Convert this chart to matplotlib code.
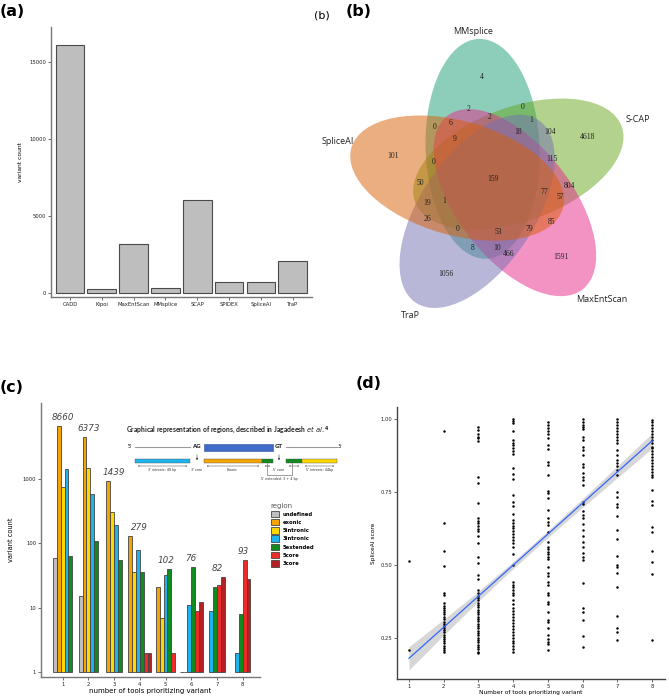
import matplotlib
matplotlib.use('Agg')
import matplotlib.pyplot as plt
import numpy as np
from matplotlib.patches import Ellipse, Rectangle

W, H = 669, 699
fig = plt.figure(figsize=(W / 100, H / 100), dpi=100)
fig.patch.set_facecolor('white')

def px_axes(x0, y0, x1, y1):
    return fig.add_axes([x0 / W, 1 - y1 / H, (x1 - x0) / W, (y1 - y0) / H])

# ---------------- data ----------------
# (a)
tools_a = ['CADD', 'Kipoi', 'MaxEntScan', 'MMsplice', 'SCAP', 'SPIDEX', 'SpliceAI', 'TraP']
count_a = [16125, 240, 3150, 306, 6055, 697, 677, 2044]

# (b) five-set Venn
venn_sets = ['MMsplice', 'S-CAP', 'MaxEntScan', 'TraP', 'SpliceAI']
venn_colors = ['#1B9E77', '#66A61E', '#E7298A', '#7570B3', '#D95F02']
venn_counts = [4, 2, 0, 2, 1, 0, 6, 18, 104, 4618, 9, 101, 0, 115, 159, 50,
               804, 77, 57, 19, 1, 26, 85, 0, 53, 79, 8, 10, 466, 1591, 1056]

# (c)
regions = ['undefined', 'exonic', '5intronic', '3intronic', '5extended', '5core', '3core']
region_colors = ['#BEBEBE', '#F5A300', '#FFD700', '#1DB4EE', '#128A1E', '#EE2B2B', '#B22222']
n_tools = [1, 2, 3, 4, 5, 6, 7, 8]
nan = np.nan
undefined = [58, 15, nan, nan, nan, nan, nan, nan]
exonic = [6400, 4365, 923, 130, 21, 1, nan, nan]
intronic5 = [733, 1455, 300, 36, 7, 1, nan, nan]
intronic3 = [1400, 580, 189, 77, 32, 11, 9, 2]
extended5 = [62, 109, 55, 36, 39, 42, 21, 8]
core5 = [nan, nan, nan, 2, 2, 9, 22, 55]
core3 = [nan, nan, nan, 2, nan, 12, 30, 28]
group_totals = [8660, 6373, 1439, 279, 102, 76, 82, 93]

# (d)
d_x1 = [0.514, 0.208]
d_x2 = [0.961, 0.645, 0.549, 0.496, 0.402, 0.397, 0.368, 0.36, 0.352, 0.345, 0.337,
        0.33, 0.322, 0.315, 0.305, 0.298, 0.29, 0.282, 0.275, 0.268, 0.26, 0.252,
        0.245, 0.238, 0.23, 0.222, 0.215, 0.208, 0.2]
d_x3 = [0.975, 0.963, 0.948, 0.94, 0.935, 0.925, 0.80, 0.781, 0.711, 0.66, 0.651,
        0.642, 0.633, 0.624, 0.615, 0.60, 0.574, 0.526, 0.508, 0.465, 0.45, 0.414,
        0.402, 0.394, 0.386, 0.378, 0.37, 0.362, 0.354, 0.346, 0.338, 0.33, 0.322,
        0.314, 0.306, 0.298, 0.29, 0.282, 0.274, 0.266, 0.258, 0.25, 0.242, 0.234,
        0.226, 0.218, 0.21, 0.202, 0.196]
d_x4 = [1.0, 0.993, 0.986, 0.96, 0.929, 0.92, 0.91, 0.90, 0.89, 0.88, 0.832, 0.811,
        0.795, 0.74, 0.717, 0.703, 0.674, 0.654, 0.645, 0.635, 0.625, 0.615, 0.605,
        0.595, 0.585, 0.574, 0.562, 0.537, 0.5, 0.44, 0.432, 0.424, 0.415, 0.405,
        0.395, 0.38, 0.365, 0.352, 0.34, 0.33, 0.32, 0.31, 0.3, 0.29, 0.28, 0.27,
        0.26, 0.25, 0.24, 0.23, 0.22, 0.21, 0.2]
d_x5 = [0.99, 0.98, 0.97, 0.96, 0.95, 0.935, 0.912, 0.898, 0.852, 0.843, 0.809,
        0.754, 0.746, 0.729, 0.69, 0.66, 0.648, 0.637, 0.614, 0.58, 0.562, 0.554,
        0.545, 0.537, 0.528, 0.52, 0.494, 0.471, 0.46, 0.442, 0.431, 0.404, 0.397,
        0.374, 0.365, 0.337, 0.311, 0.305, 0.282, 0.259, 0.245, 0.236, 0.228, 0.208]
d_x6 = [1.0, 0.99, 0.98, 0.975, 0.965, 0.94, 0.93, 0.906, 0.895, 0.877, 0.845,
        0.837, 0.815, 0.803, 0.79, 0.774, 0.717, 0.71, 0.685, 0.67, 0.66, 0.64,
        0.62, 0.60, 0.58, 0.562, 0.54, 0.528, 0.517, 0.439, 0.351, 0.339, 0.311,
        0.256, 0.219]
d_x7 = [1.0, 0.99, 0.98, 0.97, 0.96, 0.95, 0.94, 0.93, 0.92, 0.895, 0.877, 0.86,
        0.85, 0.84, 0.825, 0.81, 0.75, 0.734, 0.71, 0.70, 0.666, 0.62, 0.59, 0.531,
        0.50, 0.494, 0.473, 0.425, 0.326, 0.282, 0.268, 0.242]
d_x8 = [0.998, 0.99, 0.98, 0.97, 0.96, 0.95, 0.94, 0.93, 0.92, 0.906, 0.9, 0.89,
        0.88, 0.87, 0.86, 0.85, 0.84, 0.83, 0.82, 0.81, 0.80, 0.757, 0.72, 0.706,
        0.631, 0.614, 0.548, 0.511, 0.468, 0.242]
fit_x = [1, 8]
fit_y = [0.179, 0.926]
band_x = [1, 2, 3, 4, 5, 6, 7, 8]
band_hw = [0.040, 0.027, 0.017, 0.012, 0.012, 0.015, 0.020, 0.026]

# ---------------- panel labels ----------------
lab_kw = dict(fontsize=11.5, fontweight='bold', family='DejaVu Sans', va='center', ha='left')
fig.text(0 / W, 1 - 11 / H, '(a)', **lab_kw)
fig.text(346 / W, 1 - 11 / H, '(b)', **lab_kw)
fig.text(0 / W, 1 - 388 / H, '(c)', **lab_kw)
fig.text(356 / W, 1 - 384 / H, '(d)', **lab_kw)
fig.text(314 / W, 1 - 15 / H, '(b)', fontsize=8, va='center', ha='left')

def style_axes(ax, spine_col='#777777'):
    for s in ['top', 'right']:
        ax.spines[s].set_visible(False)
    for s in ['left', 'bottom']:
        ax.spines[s].set_color(spine_col)
        ax.spines[s].set_linewidth(1.0)
    ax.tick_params(colors='#555555', length=2, width=0.6, labelsize=3.8, pad=1.5)
    for t in ax.get_xticklabels() + ax.get_yticklabels():
        t.set_color('#222222')

# ---------------- (a) ----------------
ax_a = px_axes(50.7, 27.3, 311.7, 296.7)
xa = np.arange(len(tools_a))
ax_a.bar(xa, count_a, width=0.9, color='#BEBEBE', edgecolor='#4A4A4A', linewidth=0.8)
ax_a.set_xlim(-0.607, 7.6)
ax_a.set_ylim(-260, 17280)
ax_a.set_xticks(xa)
ax_a.set_xticklabels(tools_a)
ax_a.set_yticks([0, 5000, 10000, 15000])
ax_a.set_ylabel('variant count', fontsize=4.3, labelpad=4)
style_axes(ax_a)

# ---------------- (b) Venn ----------------
ax_b = px_axes(320, 0, 669, 335)
ax_b.set_xlim(320, 669)
ax_b.set_ylim(335, 0)
ax_b.axis('off')
vc_x, vc_y, vr = 490, 181, 33
semi_a, semi_b = 110, 57
for k, (nm, col) in enumerate(zip(venn_sets, venn_colors)):
    phi = np.deg2rad(103 - 72 * k)
    theta = 92 - 72 * k
    cx = vc_x + vr * np.cos(phi)
    cy = vc_y - vr * np.sin(phi)
    ax_b.add_patch(Ellipse((cx, cy), 2 * semi_a, 2 * semi_b, angle=-theta,
                           facecolor=col, alpha=0.5, edgecolor='none'))
venn_label_pos = [(473, 32), (638, 120), (602, 300), (410, 316), (338, 142)]
for nm, (x, y) in zip(venn_sets, venn_label_pos):
    ax_b.text(x, y, nm, fontsize=6.5, family='Open Sans', ha='center', va='center', color='#222222')
venn_num_pos = [(482, 77), (469, 109), (523, 107), (490, 117), (531, 120), (435, 127),
                (451, 123), (518, 132), (550, 132), (588, 137), (455, 139), (393, 156),
                (434, 162), (552, 159), (493, 179), (420, 183), (569, 186), (544, 192),
                (560, 197), (427, 203), (444, 201), (427, 219), (552, 222), (458, 229),
                (498, 232), (529, 229), (473, 248), (497, 248), (509, 254), (561, 257),
                (446, 274)]
for v, (x, y) in zip(venn_counts, venn_num_pos):
    ax_b.text(x, y, str(v), fontsize=5.5, family='Liberation Serif', ha='center', va='center',
              color='#222222')

# ---------------- (c) ----------------
ax_c = px_axes(41, 403, 260, 677)
series = [undefined, exonic, intronic5, intronic3, extended5, core5, core3]
bw = 0.15
for gi, g in enumerate(n_tools):
    present = [ri for ri in range(len(regions)) if not np.isnan(series[ri][gi])]
    n = len(present)
    for j, ri in enumerate(present):
        v = series[ri][gi]
        xpos = g - n * bw / 2 + bw * (j + 0.5)
        ax_c.bar(xpos, v - 1, bottom=1, width=bw, color=region_colors[ri],
                 edgecolor='#444444', linewidth=0.6)
    top = max(series[ri][gi] for ri in present)
    ax_c.annotate(str(group_totals[gi]), (g, top), xytext=(0, 3), textcoords='offset points',
                  ha='center', va='bottom', fontsize=6.3, style='italic', color='#444444')
ax_c.set_yscale('log')
ax_c.set_ylim(0.84, 14800)
ax_c.set_xlim(0.16, 8.67)
ax_c.set_xticks(n_tools)
ax_c.set_yticks([1, 10, 100, 1000])
ax_c.set_yticklabels(['1', '10', '100', '1000'])
ax_c.minorticks_off()
ax_c.set_xlabel('number of tools prioritizing variant', fontsize=5, labelpad=1)
ax_c.set_ylabel('variant count', fontsize=4.8, labelpad=6)
style_axes(ax_c)
handles = [Rectangle((0, 0), 1, 1, facecolor=c, edgecolor='#444444', linewidth=0.6)
           for c in region_colors]
leg = ax_c.legend(handles, regions, title='region', loc='upper left',
                  bbox_to_anchor=(266 / W, 1 - 498 / H), bbox_transform=fig.transFigure,
                  frameon=False, prop={'size': 3.8, 'weight': 'bold'}, title_fontsize=5,
                  handlelength=1.5, handleheight=1.5, labelspacing=0.35, handletextpad=0.8,
                  alignment='left')
leg.get_title().set_color('#555555')

# inset schematic
ax_i = px_axes(120, 420, 345, 485)
ax_i.set_xlim(120, 345)
ax_i.set_ylim(485, 420)
ax_i.axis('off')
ax_i.text(228, 430, r'Graphical representation of regions, described in Jagadeesh $\bf{\it{et\ al.}}^{4}$',
          fontsize=4.9, fontweight='bold', family='Lato', ha='center', va='center', color='#222222')
ax_i.text(130, 447, "5'", fontsize=3.5, ha='center', va='center')
ax_i.text(340, 447, "3'", fontsize=3.5, ha='center', va='center')
ax_i.plot([135, 190], [447, 447], color='#999999', lw=0.8)
ax_i.plot([286, 337], [447, 447], color='#999999', lw=0.8)
ax_i.text(197, 447, 'AG', fontsize=4, fontweight='bold', ha='center', va='center', color='#333333')
ax_i.text(279, 447, 'GT', fontsize=4, fontweight='bold', ha='center', va='center', color='#333333')
ax_i.add_patch(Rectangle((204, 443.5), 69, 7.5, facecolor='#4169C8', edgecolor='#2F4F9F', lw=0.4))
row2 = [(135, 190, '#1DB4EE'), (204, 262, '#F5A300'), (262, 273, '#128A1E'),
        (286, 302, '#128A1E'), (302, 337, '#FFD700')]
for x0, x1, c in row2:
    ax_i.add_patch(Rectangle((x0, 458.5), x1 - x0, 4, facecolor=c, edgecolor='#555555', lw=0.3))
for xa_ in [197, 279]:
    ax_i.annotate('', xy=(xa_, 463), xytext=(xa_, 452),
                  arrowprops=dict(arrowstyle='-|>', lw=0.4, color='#333333', mutation_scale=2.5))
for x0, x1 in [(135, 190), (204, 262), (262, 273), (286, 302), (302, 337)]:
    ax_i.annotate('', xy=(x0, 466), xytext=(x1, 466),
                  arrowprops=dict(arrowstyle='<->', lw=0.3, color='#333333', mutation_scale=2))
for x, t in [(162, "3' intronic: 48 bp"), (197, "3' core"), (232, 'Exonic'),
             (279, "5' core"), (320, "5' intronic: 44bp")]:
    ax_i.text(x, 470, t, fontsize=2.4, ha='center', va='center', color='#333333')
ax_i.plot([267, 267, 292, 292], [463, 475, 475, 463], color='#555555', lw=0.4)
ax_i.text(279, 479, "5' extended: 3 + 4 bp", fontsize=2.4, ha='center', va='center', color='#333333')

# ---------------- (d) ----------------
ax_d = px_axes(397, 407, 665, 679)
for xv, ys in zip([1, 2, 3, 4, 5, 6, 7, 8], [d_x1, d_x2, d_x3, d_x4, d_x5, d_x6, d_x7, d_x8]):
    ax_d.scatter([xv] * len(ys), ys, s=3.2, color='black', linewidths=0, zorder=3)
fit_band_center = np.interp(band_x, fit_x, fit_y)
ax_d.fill_between(band_x, fit_band_center - np.array(band_hw), fit_band_center + np.array(band_hw),
                  color='#BDBDBD', alpha=0.6, linewidth=0, zorder=2)
ax_d.plot(fit_x, fit_y, color='#3366FF', lw=0.9, zorder=4)
ax_d.set_xlim(0.655, 8.37)
ax_d.set_ylim(0.108, 1.042)
ax_d.set_xticks([1, 2, 3, 4, 5, 6, 7, 8])
ax_d.set_yticks([0.25, 0.5, 0.75, 1.0])
ax_d.set_yticklabels(['0.25', '0.50', '0.75', '1.00'])
ax_d.set_xlabel('Number of tools prioritizing variant', fontsize=4.2, labelpad=1)
ax_d.set_ylabel('SpliceAI score', fontsize=4.2, labelpad=3)
style_axes(ax_d, spine_col='#444444')

fig.savefig('out.png', dpi=100)
